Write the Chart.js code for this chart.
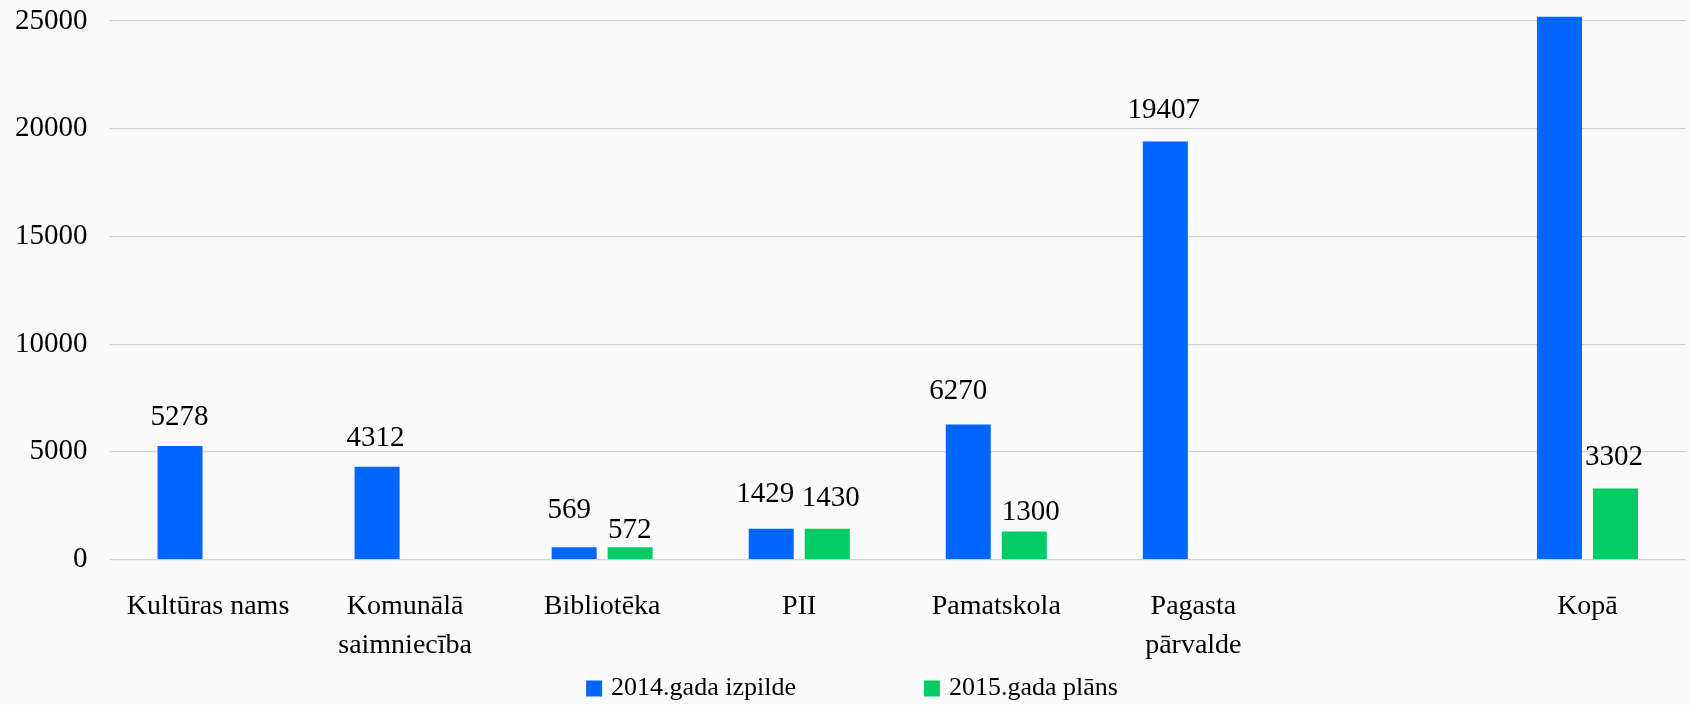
<!DOCTYPE html>
<html><head><meta charset="utf-8">
<script src="https://cdn.jsdelivr.net/npm/chart.js@4/dist/chart.umd.min.js"></script>
<style>html,body{margin:0;padding:0;background:#fafafa;overflow:hidden}</style>
</head><body>
<canvas id="c" width="1691" height="705"></canvas>
<script>
const categories = ['Kultūras nams', ['Komunālā', 'saimniecība'], 'Bibliotēka', 'PII', 'Pamatskola', ['Pagasta', 'pārvalde'], '', 'Kopā'];
const seriesNames = ['2014.gada izpilde', '2015.gada plāns'];
const values2014 = [5278, 4312, 569, 1429, 6270, 19407, null, 37265];
const values2015 = [null, null, 572, 1430, 1300, null, null, 3302];
const yTicks = [0, 5000, 10000, 15000, 20000, 25000];

// label placement nudges (pixels), style only
const labelGap2014 = [21, 21, 29, 27, 26, 24, 0, 0];
const labelGap2015 = [0, 0, 9, 23, 12, 0, 0, 23];
const labelDx2014 = [-0.5, -1.5, -5, -6, -10, -1.5, 0, 0];
const labelDx2015 = [0, 0, -0.5, 3.5, 6.5, 0, 0, -1.5];

const FONT = "'Liberation Serif', 'Times New Roman', serif";
const BLUE = '#0066ff';
const GREEN = '#00cc66';

const dataLabels = {
  id: 'dataLabels',
  afterDatasetsDraw(chart) {
    const ctx = chart.ctx;
    const area = chart.chartArea;
    const gaps = [labelGap2014, labelGap2015];
    const dxs = [labelDx2014, labelDx2015];
    ctx.save();
    ctx.font = '29px ' + FONT;
    ctx.fillStyle = '#000';
    ctx.textAlign = 'center';
    ctx.textBaseline = 'alphabetic';
    chart.data.datasets.forEach((ds, di) => {
      const meta = chart.getDatasetMeta(di);
      meta.data.forEach((bar, i) => {
        const v = ds.data[i];
        if (v === null || v === undefined) return;
        if (bar.y < area.top) return;
        ctx.fillText(String(v), bar.x + dxs[di][i], bar.y - gaps[di][i]);
      });
    });
    ctx.restore();
  }
};

const bottomLegend = {
  id: 'bottomLegend',
  afterDraw(chart) {
    const ctx = chart.ctx;
    ctx.save();
    ctx.font = '26px ' + FONT;
    ctx.textBaseline = 'middle';
    ctx.textAlign = 'left';
    const box = 16, textGap = 25, itemGap = 128, centerX = 852, midY = 688.5;
    const items = chart.data.datasets.map(ds => ({ text: ds.label, color: ds.backgroundColor, w: ctx.measureText(ds.label).width }));
    let total = 0;
    items.forEach((it, i) => { total += textGap + it.w + (i < items.length - 1 ? itemGap : 0); });
    let x = centerX - total / 2;
    items.forEach(it => {
      ctx.fillStyle = it.color;
      ctx.fillRect(x, midY - box / 2, box, box);
      ctx.fillStyle = '#000';
      ctx.fillText(it.text, x + textGap, midY);
      x += textGap + it.w + itemGap;
    });
    ctx.restore();
  }
};

new Chart(document.getElementById('c'), {
  type: 'bar',
  data: {
    labels: categories,
    datasets: [
      { label: seriesNames[0], data: values2014, backgroundColor: BLUE, borderWidth: 0 },
      { label: seriesNames[1], data: values2015, backgroundColor: GREEN, borderWidth: 0 }
    ]
  },
  options: {
    responsive: false,
    animation: false,
    devicePixelRatio: 1,
    categoryPercentage: 0.5685,
    barPercentage: 0.8036,
    layout: { padding: { left: -7, right: 5, top: 16.7, bottom: 12 } },
    plugins: {
      legend: { display: false },
      tooltip: { enabled: false }
    },
    scales: {
      x: {
        grid: { display: false, drawTicks: false },
        border: { display: false },
        ticks: {
          color: '#000', autoSkip: false, maxRotation: 0, padding: 27.5,
          font: { family: FONT, size: 28, lineHeight: 1.4 }
        }
      },
      y: {
        min: 0, max: 25200,
        afterBuildTicks: s => { s.ticks = yTicks.map(v => ({ value: v })); },
        afterFit: s => { s.paddingTop = 0; s.paddingBottom = 0; },
        grid: { color: '#d2d2d2', lineWidth: 1.2, drawTicks: false },
        border: { display: false },
        ticks: {
          color: '#000', padding: 22,
          callback: v => String(v),
          font: { family: FONT, size: 29, lineHeight: 1.0 }
        }
      }
    }
  },
  plugins: [dataLabels, bottomLegend]
});
</script>
</body></html>
